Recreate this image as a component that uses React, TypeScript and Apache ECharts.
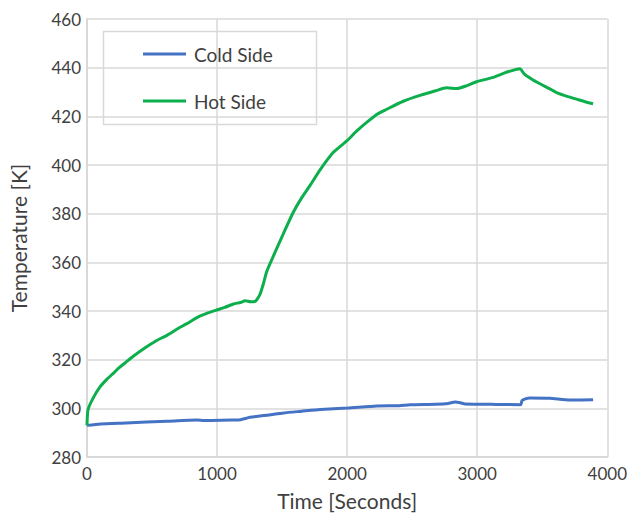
import React, { useEffect, useRef } from "react";
import * as echarts from "echarts";

const xTicks = [0, 1000, 2000, 3000, 4000];
const yTicks = [280, 300, 320, 340, 360, 380, 400, 420, 440, 460];

const coldTimes = [0, 102, 300, 614, 845, 900, 1126, 1180, 1254, 1400, 1510, 1650, 1792, 2002, 2227, 2400, 2483, 2680, 2777, 2829, 2870, 2906, 3149, 3333, 3345, 3370, 3405, 3558, 3712, 3891];
const coldTemps = [293, 293.6, 294, 294.7, 295.2, 295, 295.2, 295.3, 296.3, 297.3, 298.1, 298.8, 299.5, 300.1, 301, 301.1, 301.5, 301.7, 302, 302.6, 302.3, 301.8, 301.6, 301.5, 303.2, 303.9, 304.2, 304.1, 303.4, 303.5];

const hotTimes = [0, 8, 50, 100, 150, 200, 250, 300, 358, 450, 530, 614, 700, 768, 845, 920, 1003, 1060, 1126, 1180, 1216, 1260, 1293, 1310, 1331, 1355, 1382, 1420, 1459, 1520, 1587, 1650, 1715, 1792, 1894, 1997, 2074, 2150, 2227, 2304, 2432, 2560, 2680, 2765, 2842, 2920, 2995, 3123, 3230, 3328, 3360, 3379, 3460, 3558, 3620, 3686, 3780, 3850, 3891];
const hotTemps = [293, 299.5, 304.5, 308.8, 311.8, 314.3, 316.8, 319, 321.5, 325, 327.7, 330, 332.8, 334.8, 337.3, 339, 340.5, 341.5, 342.9, 343.5, 344.2, 343.8, 344, 345, 347, 351, 356.2, 361, 365.7, 373, 380.7, 386.5, 391.6, 398, 405.2, 409.9, 414, 417.5, 420.8, 422.9, 426.2, 428.6, 430.5, 431.7, 431.4, 432.6, 434.2, 436, 438.2, 439.6, 437.5, 436.7, 434, 431.3, 429.5, 428.3, 426.8, 425.7, 425.2];

const seriesNames = ["Cold Side", "Hot Side"];
const colors = ["#4472C4", "#0DAE4C"];

const FONT = "Lato, 'Open Sans', sans-serif";
const TEXT = "#404040";
const GRID = "#d9d9d9";

export default function App() {
  const ref = useRef<HTMLDivElement>(null);
  useEffect(() => {
    document.body.style.margin = "0";
    const chart = echarts.init(ref.current!, undefined, { renderer: "svg" });
    const pair = (t: number[], v: number[]) => t.map((x, i) => [x, v[i]]);
    chart.setOption({
      animation: false,
      backgroundColor: "#ffffff",
      grid: { left: 87, right: 22, top: 19, bottom: 56, containLabel: false },
      xAxis: {
        type: "value",
        min: xTicks[0],
        max: xTicks[xTicks.length - 1],
        interval: 1000,
        name: "Time [Seconds]",
        nameLocation: "middle",
        nameGap: 33,
        nameTextStyle: { fontFamily: FONT, fontSize: 21, color: TEXT },
        axisLine: { show: true, lineStyle: { color: GRID, width: 2 } },
        axisTick: { show: false },
        axisLabel: { fontFamily: FONT, fontSize: 17, color: TEXT, margin: 8, formatter: (v: number) => String(v) },
        splitLine: { show: true, lineStyle: { color: GRID, width: 1.5 } },
      },
      yAxis: {
        type: "value",
        min: yTicks[0],
        max: yTicks[yTicks.length - 1],
        interval: 20,
        name: "Temperature [K]",
        nameLocation: "middle",
        nameRotate: 90,
        nameGap: 58,
        nameTextStyle: { fontFamily: FONT, fontSize: 21, color: TEXT },
        axisLine: { show: true, lineStyle: { color: GRID, width: 2 } },
        axisTick: { show: false },
        axisLabel: { fontFamily: FONT, fontSize: 17, color: TEXT, margin: 6, formatter: (v: number) => String(v) },
        splitLine: { show: true, lineStyle: { color: GRID, width: 1.5 } },
      },
      legend: {
        show: true,
        left: 138,
        top: 38,
        orient: "vertical",
        icon: "rect",
        itemWidth: 43,
        itemHeight: 3,
        itemGap: 25,
        textStyle: { fontFamily: FONT, fontSize: 19, color: TEXT, lineHeight: 22, padding: [0, 0, 0, 3] },
        data: seriesNames,
      },
      graphic: [
        {
          type: "rect",
          shape: { x: 103.5, y: 31.5, width: 213, height: 93 },
          style: { fill: "#ffffff", stroke: GRID, lineWidth: 1.5 },
          z: 0,
          zlevel: 0,
        },
      ],
      series: [
        {
          name: seriesNames[0],
          type: "line",
          data: pair(coldTimes, coldTemps),
          showSymbol: false,
          symbol: "none",
          smooth: 0.2,
          lineStyle: { color: colors[0], width: 3 },
          itemStyle: { color: colors[0] },
          z: 3,
        },
        {
          name: seriesNames[1],
          type: "line",
          data: pair(hotTimes, hotTemps),
          showSymbol: false,
          symbol: "none",
          smooth: 0.2,
          lineStyle: { color: colors[1], width: 3 },
          itemStyle: { color: colors[1] },
          z: 3,
        },
      ],
    });
    return () => chart.dispose();
  }, []);
  return <div ref={ref} style={{ width: 630, height: 516 }} />;
}
